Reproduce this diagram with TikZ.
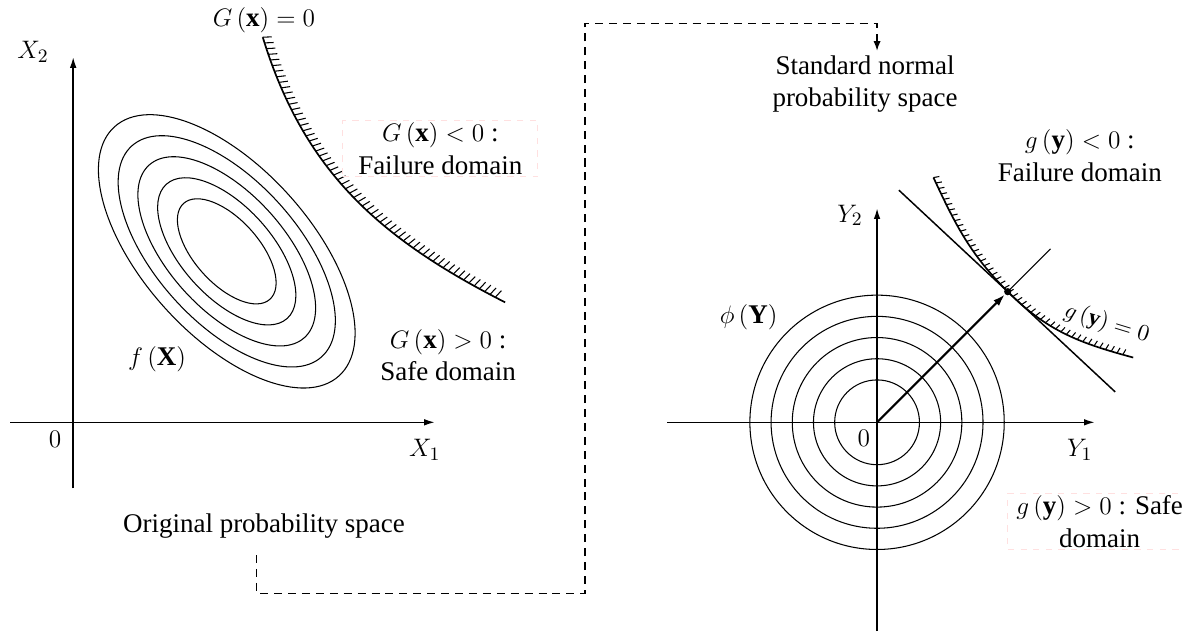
\documentclass[tikz,border=0pt,12pt]{standalone}
\usepackage{amsmath,amssymb}
\usepackage{fontspec}
\setmainfont{Liberation Serif}
\usepackage{tikz}
\usetikzlibrary{arrows.meta,positioning,calc,decorations.pathreplacing}

\begin{document}
\begin{tikzpicture}[every node/.style={font=\fontsize{12.8}{15.5}\selectfont}]
\tikzset{axisline/.style={line width=0.75pt, -{Latex[length=1.8mm,width=1.1mm]}},
  contour/.style={line width=0.5pt},
  limitstate/.style={line width=0.8pt, postaction={decorate, draw, line width=0.5pt,
    decoration={border, amplitude=#1, segment length=0.1cm, angle=75}}},
  limitstate/.default=0.15cm,
  txt/.style={align=center},
  dombox/.style={align=center, draw=red!12, dashed, inner ysep=1pt, minimum width=#1},
  link/.style={dash pattern=on 3.8pt off 2.8pt, line width=0.6pt, -{Latex[length=1.6mm,width=1.2mm]}}}
\useasboundingbox (0,0) rectangle (19.72,10.52);

% original space
\coordinate (O1) at (1.22,3.48);
\coordinate (C1) at (3.78,6.33);
\draw[axisline] ($(O1)+(-1.05,0)$) -- ($(O1)+(6.03,0)$);
\draw[axisline] ($(O1)+(0,-1.1)$) -- ($(O1)+(0,6.09)$);
\node (zero1) at (0.92,3.19) {$0$};
\node (x1lab) at (7.08,3.02) {$X_1$};
\node (x2lab) at (0.55,9.66) {$X_2$};
\foreach \k in {2.5,3.5,...,6.5}
  \draw[contour, rotate around={-48:(C1)}] (C1) ellipse ({0.43*\k} and {0.215*\k});
\draw[limitstate] (4.38,9.9) to[out=-73, in=153] (8.42,5.48);
\node (Gzero) at (4.4,10.18) {$G\left(\mathbf{x}\right) = 0$};
\node[dombox=3.25cm] (Gfail) at (7.34,8.04) {$G\left(\mathbf{x}\right) < 0$ :\\Failure domain};
\node[txt] (Gsafe) at (7.47,4.6) {$G\left(\mathbf{x}\right) > 0$ :\\Safe domain};
\node (fX) at (2.62,4.53) {$f\left(\mathbf{X}\right)$};
\node (orig) at (4.4,1.75) {Original probability space};

% standard normal space
\coordinate (O2) at (14.62,3.48);
\draw[axisline] ($(O2)+(-3.5,0)$) -- ($(O2)+(3.63,0)$);
\draw[axisline] ($(O2)+(0,-3.48)$) -- ($(O2)+(0,3.57)$);
\node (zero2) at (14.4,3.22) {$0$};
\node (y1lab) at (18.0,3.02) {$Y_1$};
\node (y2lab) at (14.17,6.93) {$Y_2$};
\foreach \k in {2,...,6}
  \draw[contour] (O2) circle[radius={0.3533*\k}];
\coordinate (P) at ($(O2)+(45:3.08)$);
\draw[line width=0.5pt] (P) -- ($(O2)+(45:4.09)$);
\draw[line width=0.7pt] ($(P)+(137:2.48)$) -- ($(P)+(-43:2.45)$);
\draw[limitstate=0.1cm] (15.56,7.56) to[out=-65, in=135] (P) to[out=-45, in=165] (18.89,4.56);
\node[circle, fill, inner sep=0pt, minimum size=0.12cm] (dp) at (P) {};
\draw[line width=1pt, -{Latex[length=2mm,width=1.3mm]}] (O2) -- (dp);
\node[rotate=-17, font=\fontsize{11}{13}\selectfont] (gzero) at (18.45,5.13) {$g\left(\mathbf{y}\right) = 0$};
\node[txt] (gfail) at (18.0,7.93) {$g\left(\mathbf{y}\right) < 0$ :\\Failure domain};
\node[dombox=2.75cm] (gsafe) at (18.33,1.83) {$g\left(\mathbf{y}\right) > 0$ : Safe\\domain};
\node (phiY) at (12.48,5.23) {$\phi\left(\mathbf{Y}\right)$};
\node[txt, inner sep=2pt] (std) at (14.42,9.12) {Standard normal\\probability space};

\draw[link] ([shift={(-0.12,-0.13)}]orig.south) |- (9.75,0.63) |- ([xshift=0.2cm,yshift=0.45cm]std.north) -- ([xshift=0.2cm]std.north);
\end{tikzpicture}
\end{document}
